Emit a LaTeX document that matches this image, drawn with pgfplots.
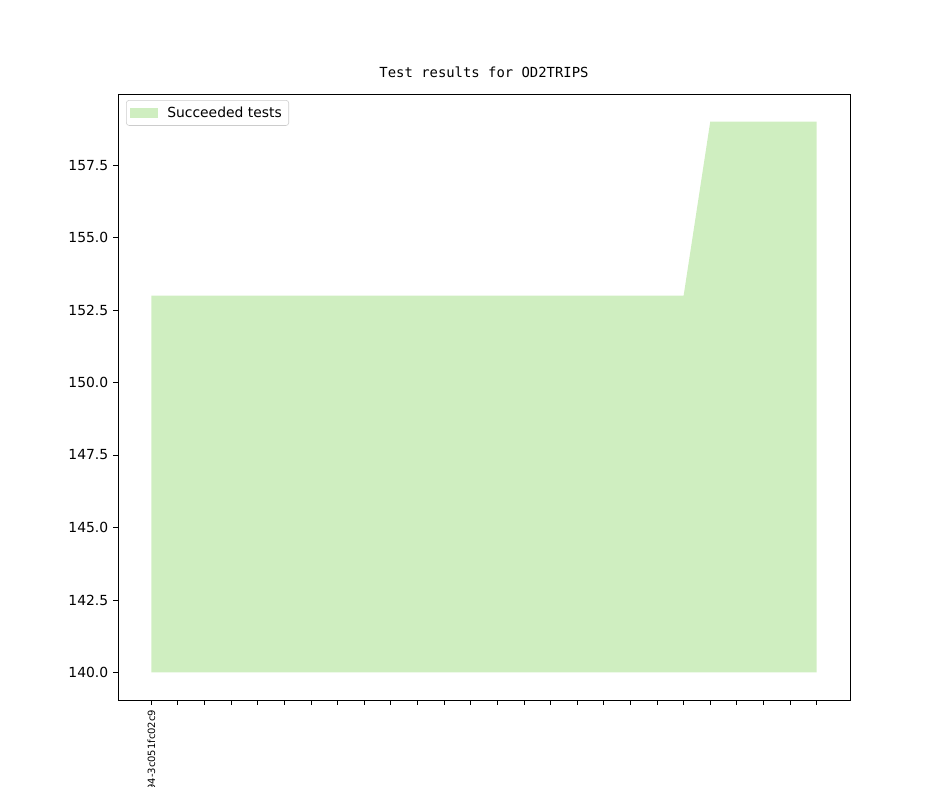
\documentclass[border=0pt]{standalone}
\usepackage{pgfplots}
\pgfplotsset{compat=1.18}
\usepackage{fontspec}
\setmainfont{DejaVu Sans}
\newfontfamily\monofont{DejaVu Sans Mono}
\definecolor{succ}{RGB}{207,238,192}
\begin{document}
\begin{tikzpicture}
\useasboundingbox (-84.96pt,-62.64pt) rectangle (594.72pt,504pt);
\begin{axis}[
  at={(0,0)}, anchor=south west,
  scale only axis, width=527.04pt, height=436.3pt,
  xmin=-1.25, xmax=26.25, ymin=139.05, ymax=159.95,
  xtick={0,1,...,25},
  xticklabels={2021-94-3c051fc02c9},
  xticklabel style={rotate=90, anchor=east, font=\fontsize{7.2}{8}\selectfont},
  ytick={140,142.5,145,147.5,150,152.5,155,157.5},
  yticklabel style={/pgf/number format/fixed,/pgf/number format/fixed zerofill,/pgf/number format/precision=1, font=\fontsize{10}{12}\selectfont},
  /pgf/number format/assume math mode=true,
  tick align=outside, major tick length=3.5pt,
  tick style={black, line width=0.6pt},
  xtick pos=bottom, ytick pos=left,
  axis line style={line width=0.6pt},
  title={\monofont\fontsize{10}{12}\selectfont Test results for OD2TRIPS},
  title style={at={(0.5,1)}, anchor=base, yshift=6pt, inner sep=0pt},
  legend style={at={(0.011,0.99)}, anchor=north west, draw=black!20, rounded corners=2pt, font=\fontsize{10}{12}\selectfont, inner xsep=3pt, inner ysep=2.5pt, row sep=0pt, column sep=5pt},
  legend cell align=left,
  legend image code/.code={\fill[succ, sharp corners] (0pt,-3.5pt) rectangle (19.5pt,3.5pt);},
]
\addplot[fill=succ, draw=none] coordinates {
(0,140)
(0,153)(1,153)(2,153)(3,153)(4,153)(5,153)(6,153)(7,153)(8,153)(9,153)
(10,153)(11,153)(12,153)(13,153)(14,153)(15,153)(16,153)(17,153)(18,153)(19,153)
(20,153)(21,159)(22,159)(23,159)(24,159)(25,159)
(25,140)
};
\addlegendentry{Succeeded tests}
\end{axis}
\end{tikzpicture}
\end{document}
